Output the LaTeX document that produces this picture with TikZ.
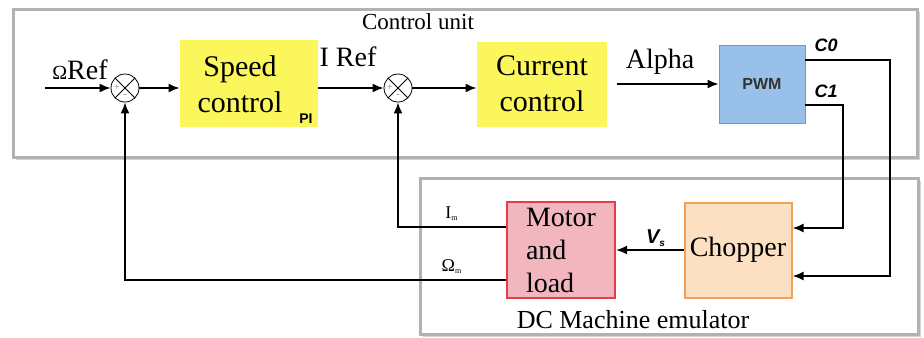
\documentclass[tikz,border=0pt]{standalone}
\usepackage{fontspec}
\setmainfont{Liberation Serif}
\setsansfont{Liberation Sans}
\usetikzlibrary{arrows.meta,shadows}

\definecolor{ctrlyellow}{RGB}{250,246,92}
\definecolor{pwmblue}{RGB}{152,192,232}
\definecolor{pwmedge}{RGB}{112,152,204}
\definecolor{chopfill}{RGB}{252,224,194}
\definecolor{chopedge}{RGB}{240,162,92}
\definecolor{motfill}{RGB}{242,182,190}
\definecolor{motedge}{RGB}{226,62,72}

\newcommand\blkfont{\fontsize{15}{18}\selectfont}
\newcommand\lblfont{\fontsize{14}{16}\selectfont}
\newcommand\sigfont{\sffamily\bfseries\itshape\fontsize{9}{10}\selectfont}

\tikzset{
  frame/.style={draw=gray!60, line width=1.5pt, fill=white,
    drop shadow={shadow xshift=1.5pt, shadow yshift=-1.5pt, opacity=0.35}},
  blk/.style={rectangle, inner sep=1pt, align=center},
  summer/.style={circle, draw, fill=white, minimum size=14pt, inner sep=0pt,
    path picture={
      \draw[line width=0.5pt] (path picture bounding box.north west) -- (path picture bounding box.south east)
        (path picture bounding box.north east) -- (path picture bounding box.south west);
      \node[font=\fontsize{5}{5}\selectfont, gray, inner sep=0pt] at ([xshift=-4pt]path picture bounding box.center) {+};
      \node[font=\fontsize{5}{5}\selectfont, gray, inner sep=0pt] at ([yshift=-4pt]path picture bounding box.center) {-};
    }},
  wire/.style={line width=0.9pt},
  arr/.style={wire, -{Latex[length=5.5pt,width=4.5pt]}}
}

\begin{document}
\begin{tikzpicture}[x=0.5pt, y=-0.5pt]
  \useasboundingbox (0,0) rectangle (924,337);
  % Rahmen
  \draw[frame] (13,9) rectangle (917,157);
  \draw[frame] (420,178) rectangle (918,334);
  \node[font=\fontsize{11.5}{13}\selectfont] (cu) at (418,22) {Control unit};
  \node[font=\fontsize{13}{15}\selectfont] (dce) at (633,320) {DC Machine emulator};
  % Regler
  \node[summer] (s1) at (125,88) {};
  \node[summer] (s2) at (398,88) {};
  \node[blk, fill=ctrlyellow, minimum width=69pt, minimum height=43.5pt] (spd) at (249,83) {};
  \node[blk, font=\blkfont] (spdtxt) at (240,84) {Speed\\control};
  \node[font=\sffamily\bfseries\fontsize{7}{8}\selectfont] (pi) at (306,119) {PI};
  \node[blk, fill=ctrlyellow, font=\blkfont, minimum width=65pt, minimum height=42.5pt] (cur) at (542,84) {Current\\control};
  \node[blk, draw=pwmedge, fill=pwmblue, minimum width=43pt, minimum height=39pt,
        font=\sffamily\bfseries\fontsize{8}{9}\selectfont, text=black!80] (pwm) at (762,84) {PWM};
  % Maschine
  \node[blk, draw=chopedge, line width=1pt, fill=chopfill, font=\lblfont,
        minimum width=53.5pt, minimum height=47.5pt] (chop) at (738,250) {Chopper};
  \node[blk, draw=motedge, line width=1pt, fill=motfill, font=\fontsize{14}{16.5}\selectfont, align=left,
        minimum width=54pt, minimum height=48pt] (mot) at (561,250) {Motor\\and\\load};
  % Beschriftungen
  \node[font=\lblfont] (oref) at (80,70) {{\fontsize{10}{10}\selectfont Ω}Ref};
  \node[font=\lblfont] (iref) at (348,57) {I Ref};
  \node[font=\lblfont] (alpha) at (660,62) {Alpha};
  \node[font=\sigfont] (c0) at (826,45) {C0};
  \node[font=\sigfont] (c1) at (826,91) {C1};
  \node[font=\sffamily\bfseries\itshape\fontsize{10}{11}\selectfont] (vs) at (656,238) {V\textsubscript{\fontsize{5}{5}\selectfont s}};
  \node[font=\fontsize{9}{10}\selectfont] (im) at (452,214) {I\textsubscript{\fontsize{4}{4}\selectfont m}};
  \node[font=\fontsize{9}{10}\selectfont] (om) at (452,267) {Ω\textsubscript{\fontsize{4}{4}\selectfont m}};
  % Signale
  \coordinate (inp) at (45,88);
  \coordinate (c0r) at (890,60);
  \coordinate (c1r) at (843,105);
  \draw[arr] (inp) -- (s1);
  \draw[arr] (s1) -- (spd.west |- s1);
  \draw[arr] (spd.east |- s2) -- (s2);
  \draw[arr] (s2) -- (cur.west |- s2);
  \draw[arr] ([xshift=5pt]cur.east) -- (pwm.west);
  \draw[arr] (pwm.east |- c0r) -- (c0r) |- (chop.east |- 0,276);
  \draw[arr] (pwm.east |- c1r) -- (c1r) |- (chop.east |- 0,228);
  \draw[arr] (chop) -- (mot);
  \draw[arr] (mot.west |- 0,227) -| (s2);
  \draw[arr] (mot.west |- 0,280) -| (s1);
\end{tikzpicture}
\end{document}
